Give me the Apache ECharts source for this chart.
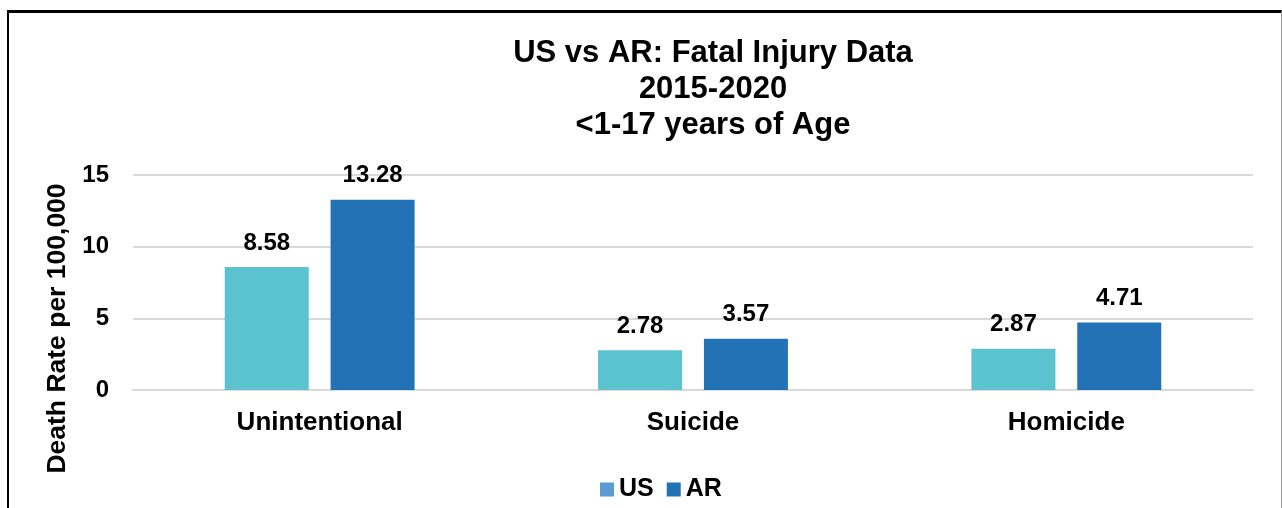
<!DOCTYPE html>
<html>
<head>
<meta charset="utf-8">
<script src="https://cdn.jsdelivr.net/npm/echarts@6/dist/echarts.min.js"></script>
<style>
  html, body { margin: 0; padding: 0; background: #fff; overflow: hidden; }
  #chart { position: absolute; left: 0; top: 0; width: 1282px; height: 508px; }
  #frame { position: absolute; left: 7px; top: 10px; width: 1275px; height: 700px; box-sizing: border-box;
           border-left: 2px solid #000; border-top: 3px solid #000; border-right: 1px solid #999; pointer-events: none; }
</style>
</head>
<body>
<div id="chart"></div>
<div id="frame"></div>
<script>
const categories = ['Unintentional', 'Suicide', 'Homicide'];
const usValues = [8.58, 2.78, 2.87];
const arValues = [13.28, 3.57, 4.71];
const yTicks = { min: 0, max: 15, interval: 5 };
const titleText = 'US vs AR: Fatal Injury Data\n2015-2020\n<1-17 years of Age';
const yAxisName = 'Death Rate per 100,000';

const FONT = '"Liberation Sans", Arial, sans-serif';
const chart = echarts.init(document.getElementById('chart'), null, { renderer: 'canvas' });
const labelStyle = { show: true, position: 'top', distance: 12, color: '#000', fontFamily: FONT, fontWeight: 'bold', fontSize: 24,
  formatter: p => p.value.toFixed(2) };
chart.setOption({
  animation: false,
  backgroundColor: '#fff',
  title: {
    text: titleText, left: 708, top: 30, textAlign: 'center',
    textStyle: { fontFamily: FONT, fontWeight: 'bold', fontSize: 31, lineHeight: 36, color: '#000' }
  },
  legend: {
    left: 595, top: 472, itemWidth: 14, itemHeight: 14, itemGap: 13,
    textStyle: { fontFamily: FONT, fontWeight: 'bold', fontSize: 25, color: '#000' },
    data: [
      { name: 'US', icon: 'rect', itemStyle: { color: '#5B9BD5' } },
      { name: 'AR', icon: 'rect', itemStyle: { color: '#2372B5' } }
    ]
  },
  grid: { left: 133, right: 29, top: 175, bottom: 118 },
  xAxis: {
    type: 'category', data: categories,
    axisLine: { show: true, lineStyle: { color: '#d9d9d9', width: 2 } },
    axisTick: { show: false },
    axisLabel: { margin: 20, color: '#000', fontFamily: FONT, fontWeight: 'bold', fontSize: 26 }
  },
  yAxis: {
    type: 'value', min: yTicks.min, max: yTicks.max, interval: yTicks.interval,
    name: yAxisName, nameLocation: 'middle', nameGap: 60, nameRotate: 90,
    nameTextStyle: { fontFamily: FONT, fontWeight: 'bold', fontSize: 26.5, color: '#000', padding: [0, 92, 0, 0] },
    axisLine: { show: false }, axisTick: { show: false },
    axisLabel: { margin: 24, color: '#000', fontFamily: FONT, fontWeight: 'bold', fontSize: 24 },
    splitLine: { lineStyle: { color: '#d9d9d9', width: 2 } }
  },
  series: [
    { name: 'US', type: 'bar', data: usValues, barWidth: 84, barGap: '26%', itemStyle: { color: '#5BC3CF' }, label: labelStyle },
    { name: 'AR', type: 'bar', data: arValues, barWidth: 84, barGap: '26%', itemStyle: { color: '#2372B5' }, label: labelStyle }
  ]
});
</script>
</body>
</html>
